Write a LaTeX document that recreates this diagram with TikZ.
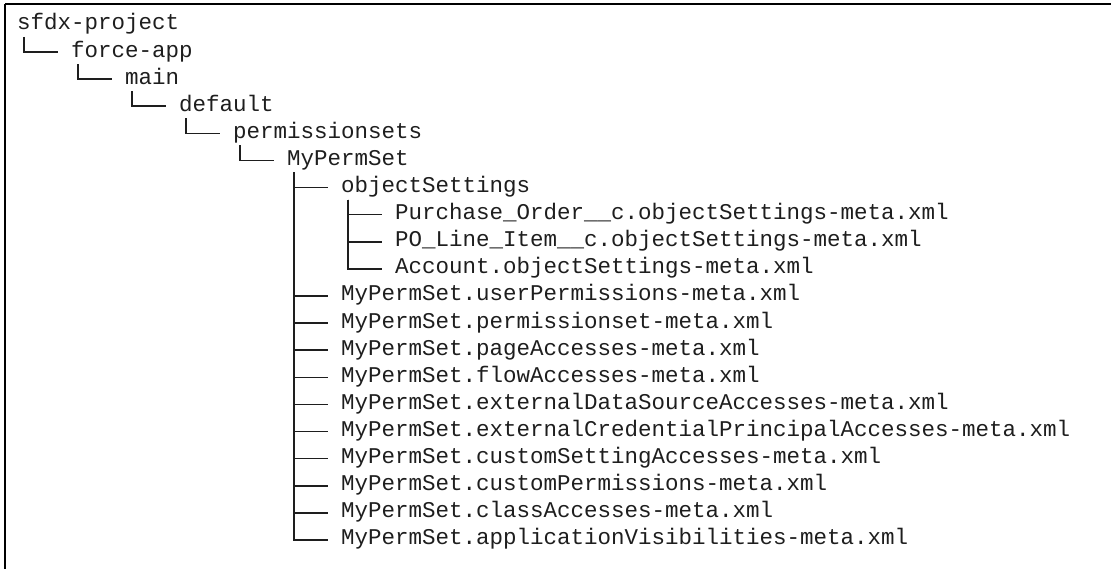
\documentclass[tikz,border=0pt]{standalone}
\usepackage{fontspec}
\setmonofont{Liberation Mono}
\usetikzlibrary{calc}
\definecolor{ink}{HTML}{1E1E1E}
\begin{document}
\begin{tikzpicture}[x=1pt,y=1pt,
  entry/.style={anchor=base west, inner sep=0pt, outer sep=0pt, text=ink,
    font=\fontsize{22.5}{27}\selectfont\ttfamily},
  branch/.style={draw=ink, line width=1.6pt},
  frameline/.style={draw=black, line width=2pt}]
\useasboundingbox (0,0) rectangle (1111,-569);
\fill[white] (0,0) rectangle (1111,-569);
% frame
\draw[frameline] (5,-4) -- (1111,-4);
\draw[frameline] (5,-4) -- (5,-569);
% entries: x = 17 + 13.5*col, y = -(30 + 27.1*row)
\node[entry] (r0)  at (17,-30)      {sfdx-project};
\node[entry] (r1)  at (71,-57.1)    {force-app};
\node[entry] (r2)  at (125,-84.2)   {main};
\node[entry] (r3)  at (179,-111.3)  {default};
\node[entry] (r4)  at (233,-138.4)  {permissionsets};
\node[entry] (r5)  at (287,-165.5)  {MyPermSet};
\node[entry] (r6)  at (341,-192.6)  {objectSettings};
\node[entry] (r7)  at (395,-219.7)  {Purchase\_Order\_\_c.objectSettings-meta.xml};
\node[entry] (r8)  at (395,-246.8)  {PO\_Line\_Item\_\_c.objectSettings-meta.xml};
\node[entry] (r9)  at (395,-273.9)  {Account.objectSettings-meta.xml};
\node[entry] (r10) at (341,-301.0)  {MyPermSet.userPermissions-meta.xml};
\node[entry] (r11) at (341,-328.1)  {MyPermSet.permissionset-meta.xml};
\node[entry] (r12) at (341,-355.2)  {MyPermSet.pageAccesses-meta.xml};
\node[entry] (r13) at (341,-382.3)  {MyPermSet.flowAccesses-meta.xml};
\node[entry] (r14) at (341,-409.4)  {MyPermSet.externalDataSourceAccesses-meta.xml};
\node[entry] (r15) at (341,-436.5)  {MyPermSet.externalCredentialPrincipalAccesses-meta.xml};
\node[entry] (r16) at (341,-463.6)  {MyPermSet.customSettingAccesses-meta.xml};
\node[entry] (r17) at (341,-490.7)  {MyPermSet.customPermissions-meta.xml};
\node[entry] (r18) at (341,-517.8)  {MyPermSet.classAccesses-meta.xml};
\node[entry] (r19) at (341,-544.9)  {MyPermSet.applicationVisibilities-meta.xml};
% branches
\foreach \p/\c in {r0/r1, r1/r2, r2/r3, r3/r4, r4/r5, r5/r6, r6/r7, r6/r8, r6/r9,
  r5/r10, r5/r11, r5/r12, r5/r13, r5/r14, r5/r15, r5/r16, r5/r17, r5/r18, r5/r19}
  \draw[branch] ($(\p.base west)+(6.75,-7)$) |- ($(\c.base west)+(-13.5,5)$);
\end{tikzpicture}
\end{document}
